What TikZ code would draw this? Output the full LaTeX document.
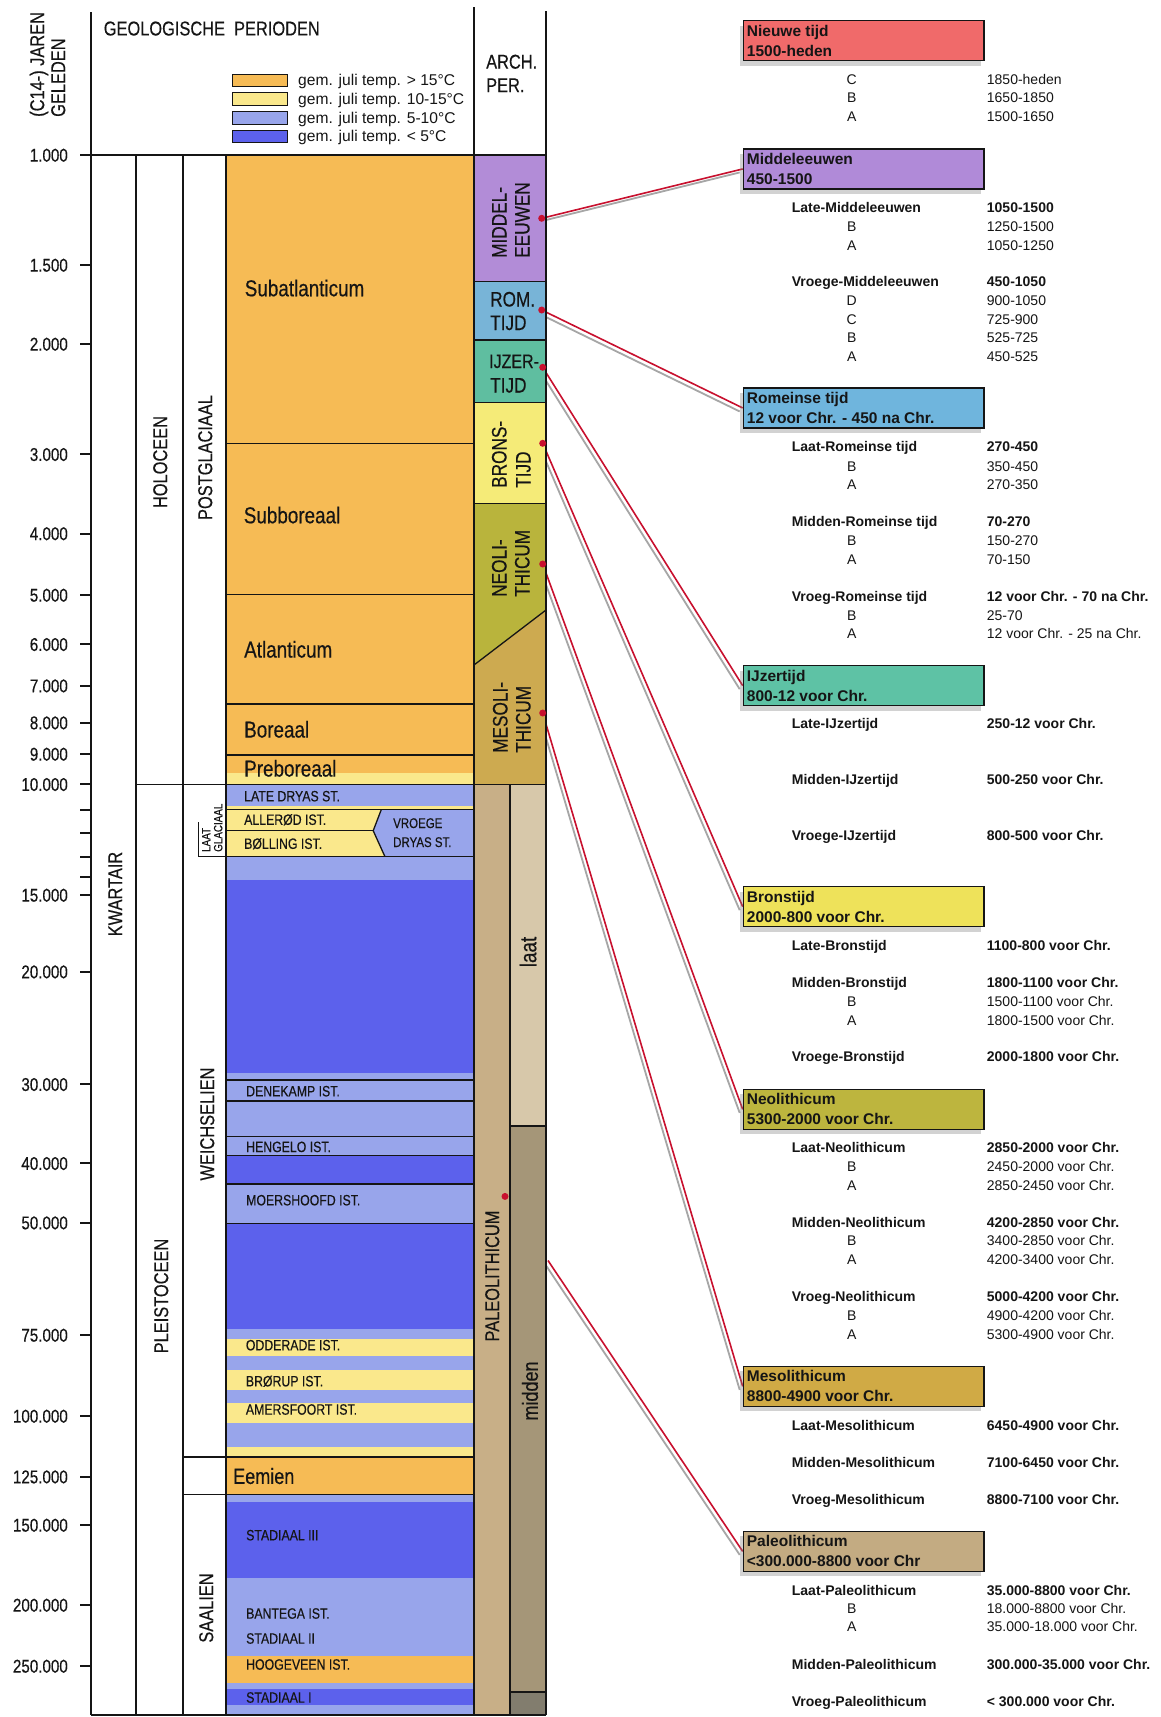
\documentclass[tikz,border=0pt]{standalone}
\usepackage{fontspec}
\setmainfont{Liberation Sans}
\newfontfamily\cond[FakeStretch=0.82,FakeBold=0.35]{Liberation Sans}
\usetikzlibrary{shadows}
\definecolor{cOr}{HTML}{F6BB55}
\definecolor{cYe}{HTML}{FAE88C}
\definecolor{cLb}{HTML}{98A5EB}
\definecolor{cDb}{HTML}{5C61EC}
\definecolor{aMid}{HTML}{B28CD7}
\definecolor{aRom}{HTML}{78B4D7}
\definecolor{aIJz}{HTML}{5FBEA0}
\definecolor{aBro}{HTML}{F5EB78}
\definecolor{aNeo}{HTML}{B9B43C}
\definecolor{aMes}{HTML}{CDAA50}
\definecolor{aPal}{HTML}{C8AF87}
\definecolor{aLaat}{HTML}{D7C8AA}
\definecolor{aMidd}{HTML}{A59678}
\definecolor{aBot}{HTML}{827D6E}
\definecolor{bNw}{HTML}{F06A6A}
\definecolor{bMid}{HTML}{B08AD8}
\definecolor{bRom}{HTML}{6FB5DD}
\definecolor{bIJz}{HTML}{5EC2A5}
\definecolor{bBro}{HTML}{EEE25A}
\definecolor{bNeo}{HTML}{BDB53E}
\definecolor{bMes}{HTML}{D0AA45}
\definecolor{bPal}{HTML}{C3AB82}
\definecolor{cRed}{HTML}{C8102E}
\definecolor{ink}{HTML}{151515}
\pgfdeclarelayer{bg}
\pgfdeclarelayer{lines}
\pgfsetlayers{bg,lines,main}
\begin{document}
\begin{tikzpicture}[x=1pt,y=-1pt,
  txt/.style={inner sep=0pt, text depth=0pt, text=ink},
  cBig/.style={txt, font=\cond\fontsize{23}{26}\selectfont, text height=16.5pt, anchor=west},
  cEem/.style={txt, font=\cond\fontsize{22}{25}\selectfont, text height=15.8pt, anchor=west},
  cLab/.style={txt, font=\cond\fontsize{20}{23}\selectfont, text height=14.3pt},
  cArch/.style={txt, font=\cond\fontsize{21}{24}\selectfont, text height=15pt},
  cTick/.style={txt, font=\cond\fontsize{18.5}{21}\selectfont, text height=13.2pt, anchor=east},
  cSm/.style={txt, font=\cond\fontsize{15}{18}\selectfont, text height=10.7pt, anchor=west},
  cVr/.style={txt, font=\cond\fontsize{14}{17}\selectfont, text height=10pt, anchor=west},
  cLG/.style={txt, font=\cond\fontsize{12}{14}\selectfont, text height=8.6pt, rotate=90, anchor=west},
  leg/.style={txt, font=\fontsize{15.6}{18}\selectfont, text height=11.2pt, anchor=west},
  rt/.style={txt, font=\fontsize{14}{17}\selectfont, text height=10pt, anchor=west},
  rtb/.style={rt, font=\bfseries\fontsize{14}{17}\selectfont},
  rtl/.style={txt, font=\fontsize{14}{17}\selectfont, text height=10pt},
  bt/.style={txt, font=\bfseries\fontsize{15.5}{18}\selectfont, text height=11.1pt, anchor=west},
  pbox/.style={draw=ink, line width=1.3pt, minimum width=240.6pt, minimum height=40pt, inner sep=0pt, anchor=north west, drop shadow={shadow xshift=-3pt, shadow yshift=-5pt, opacity=0.35}},
  dot/.style={circle, fill=cRed, inner sep=0pt, minimum size=7pt},
  shl/.style={draw=gray!70, line width=1.8pt, transform canvas={xshift=-3pt,yshift=-3.5pt}},
  redl/.style={draw=cRed, line width=1.6pt},
  frm/.style={draw=ink, line width=2pt},
  bl/.style={draw=ink, line width=1.3pt}
]
\begin{pgfonlayer}{bg}
\fill[white] (0,0) rectangle (1161,1717);
\end{pgfonlayer}
\useasboundingbox (0,0) rectangle (1161,1717);

% ---- main column bands
\foreach \a/\b/\c in {155/773.3/cOr, 773.3/784.3/cYe, 784.3/806/cLb, 806/809.3/cYe, 809.3/856.7/cLb, 856.7/880/cLb, 880/1072.7/cDb, 1072.7/1155.7/cLb, 1155.7/1184/cDb, 1184/1223.3/cLb, 1223.3/1329.3/cDb, 1329.3/1339.3/cLb, 1339.3/1356/cYe, 1356/1370/cLb, 1370/1390/cYe, 1390/1403.3/cLb, 1403.3/1423.3/cYe, 1423.3/1446.7/cLb, 1446.7/1457/cYe, 1457/1494.3/cOr, 1494.3/1501.7/cLb, 1501.7/1578/cDb, 1578/1656/cLb, 1656/1683.3/cOr, 1683.3/1689/cLb, 1689/1705/cDb, 1705/1715/cLb}
  \fill[\c] (226,\a) rectangle (474,\b);
\fill[cYe] (226,809.3) -- (381.4,809.3) -- (373.2,830.7) -- (226,830.7) -- cycle;
\fill[cYe] (226,830.7) -- (373.2,830.7) -- (385,856.7) -- (226,856.7) -- cycle;

% ---- archaeological column
\fill[aMid] (474,155) rectangle (546,281.7);
\fill[aRom] (474,281.7) rectangle (546,340);
\fill[aIJz] (474,340) rectangle (546,402.7);
\fill[aBro] (474,402.7) rectangle (546,503.3);
\fill[aNeo] (474,503.3) -- (546,503.3) -- (546,610) -- (474,665) -- cycle;
\fill[aMes] (474,665) -- (546,610) -- (546,784.3) -- (474,784.3) -- cycle;
\fill[aPal] (474,784.3) rectangle (510,1715);
\fill[aLaat] (510,784.3) rectangle (546,1126);
\fill[aMidd] (510,1126) rectangle (546,1692);
\fill[aBot] (510,1692) rectangle (546,1715);

% ---- frame lines
\draw[frm] (91,12) -- (91,1715);
\draw[frm] (474,7) -- (474,1715);
\draw[frm] (546,11) -- (546,1715);
\draw[bl] (136,155) -- (136,1715);
\draw[bl] (183,155) -- (183,1715);
\draw[bl] (226,155) -- (226,1715);
\draw[frm] (80,155) -- (546,155);
\draw[bl] (136,784.3) -- (546,784.3);
\draw[frm] (91,1715) -- (546,1715);
\foreach \y in {443.3,594.3,704,755,809.3,856.7,1080,1101,1136.7,1155.7,1184,1223.3}
  \draw[bl] (226,\y) -- (474,\y);
\draw[bl] (183,1457) -- (474,1457);
\draw[bl] (183,1494.3) -- (474,1494.3);
\draw[bl] (226,830.7) -- (373.2,830.7);
\draw[bl] (381.4,809.3) -- (373.2,830.7) -- (385,856.7);
\draw[bl] (198.6,822) -- (198.6,856.7) -- (226,856.7);
\foreach \y in {281.7,340,402.7,503.3}
  \draw[bl] (474,\y) -- (546,\y);
\draw[bl] (474,665) -- (546,610);
\draw[bl] (510,784.3) -- (510,1715);
\draw[bl] (510,1126) -- (546,1126);
\draw[bl] (510,1692) -- (546,1692);

% ---- ticks
\foreach \y/\t [count=\i] in {155/1.000, 265/1.500, 344/2.000, 454.3/3.000, 533.5/4.000, 595/5.000, 644.3/6.000, 685.7/7.000, 722.7/8.000, 754/9.000, 784.3/10.000, 895/15.000, 971.7/20.000, 1084.3/30.000, 1163.3/40.000, 1222.7/50.000, 1335/75.000, 1416/100.000, 1476.7/125.000, 1525/150.000, 1605/200.000, 1666/250.000}
{ \draw[frm] (80,\y) -- (91,\y);
  \node[cTick] (tk\i) at (68,\y) {\t}; }
\foreach \y in {810,833.3,856.7,876.7}
  \draw[frm] (80,\y) -- (91,\y);

% ---- header
\node[txt, font=\cond\fontsize{20}{23}\selectfont, text height=14.3pt, rotate=90, anchor=west] (h1) at (37,117) {(C14-) JAREN};
\node[txt, font=\cond\fontsize{20}{23}\selectfont, text height=14.3pt, rotate=90, anchor=west] (h2) at (58,117) {GELEDEN};
\node[cLab, anchor=west] (h3) at (103.6,28.3) {GEOLOGISCHE~~PERIODEN};
\node[cLab, anchor=west] (h4) at (486,61.5) {ARCH.};
\node[cLab, anchor=west] (h5) at (486,85) {PER.};

% ---- legend
\foreach \y/\c/\t [count=\i] in {80.2/cOr/{gem. juli temp. > 15°C}, 98.8/cYe/{gem. juli temp. 10-15°C}, 117.8/cLb/{gem. juli temp. 5-10°C}, 136.3/cDb/{gem. juli temp. < 5°C}}
{ \draw[draw=ink, line width=0.8pt, fill=\c] (232,\y-6.2) rectangle (287.5,\y+6.2);
  \node[leg] (lg\i) at (298,\y) {\t}; }

% ---- rotated period labels
\node[cLab, rotate=90] (kw) at (115,894) {KWARTAIR};
\node[cLab, rotate=90] (ho) at (160,462) {HOLOCEEN};
\node[cLab, rotate=90] (pg) at (205,457.5) {POSTGLACIAAL};
\node[cLab, rotate=90] (pl) at (161,1296) {PLEISTOCEEN};
\node[cLab, rotate=90] (we) at (207,1124) {WEICHSELIEN};
\node[cLab, rotate=90] (sa) at (206,1608) {SAALIEN};
\node[cLG] (lgA) at (206,852) {LAAT};
\node[cLG] (lgB) at (218,852) {GLACIAAL};

% ---- main column labels
\node[cBig] (m1) at (244.6,288) {Subatlanticum};
\node[cBig] (m2) at (243.6,515) {Subboreaal};
\node[cBig] (m3) at (244,649.3) {Atlanticum};
\node[cBig] (m4) at (244,729.3) {Boreaal};
\node[cBig] (m5) at (244,768.3) {Preboreaal};
\node[cSm] (s1) at (244,796) {LATE DRYAS ST.};
\node[cSm] (s2) at (244,819.5) {ALLERØD IST.};
\node[cSm] (s3) at (244,843.5) {BØLLING IST.};
\node[cVr] (s4) at (393,823) {VROEGE};
\node[cVr] (s5) at (393,842) {DRYAS ST.};
\node[cSm] (s6) at (246,1091) {DENEKAMP IST.};
\node[cSm] (s7) at (246,1146.7) {HENGELO IST.};
\node[cSm] (s8) at (246,1200) {MOERSHOOFD IST.};
\node[cSm] (s9) at (245.7,1345) {ODDERADE IST.};
\node[cSm] (s10) at (245.7,1381) {BRØRUP IST.};
\node[cSm] (s11) at (245.7,1409.3) {AMERSFOORT IST.};
\node[cEem] (s12) at (233,1476) {Eemien};
\node[cSm] (s13) at (246,1535) {STADIAAL III};
\node[cSm] (s14) at (246,1613.3) {BANTEGA IST.};
\node[cSm] (s15) at (246,1638.3) {STADIAAL II};
\node[cSm] (s16) at (246,1664.3) {HOOGEVEEN IST.};
\node[cSm] (s17) at (246,1697.3) {STADIAAL I};

% ---- arch labels
\node[cArch, rotate=90, anchor=west] (am1) at (499,258) {MIDDEL-};
\node[cArch, rotate=90, anchor=west] (am2) at (522,258) {EEUWEN};
\node[cArch, anchor=west] (ar1) at (490,299) {ROM.};
\node[cArch, anchor=west] (ar2) at (490,322.5) {TIJD};
\node[cArch, anchor=west, font=\cond\fontsize{19.5}{22}\selectfont] (ai1) at (489,360.5) {IJZER-};
\node[cArch, anchor=west] (ai2) at (490,385) {TIJD};
\node[cArch, rotate=90, anchor=west] (ab1) at (499,488) {BRONS-};
\node[cArch, rotate=90, anchor=west] (ab2) at (523,488) {TIJD};
\node[cArch, rotate=90, anchor=west] (an1) at (499,597) {NEOLI-};
\node[cArch, rotate=90, anchor=west] (an2) at (522,597) {THICUM};
\node[cArch, rotate=90, anchor=west] (as1) at (500,753) {MESOLI-};
\node[cArch, rotate=90, anchor=west] (as2) at (523,753) {THICUM};
\node[cLab, rotate=90] (ap) at (492,1276) {PALEOLITHICUM};
\node[txt, font=\cond\fontsize{23}{26}\selectfont, text height=16.5pt, rotate=90] (al) at (528,952) {laat};
\node[txt, font=\cond\fontsize{22}{25}\selectfont, text height=15.8pt, rotate=90] (amd) at (530,1391) {midden};

% ---- period boxes
\foreach \y/\c/\ta/\tb [count=\i] in {20/bNw/Nieuwe tijd/1500-heden, 148.3/bMid/Middeleeuwen/450-1500, 387.3/bRom/Romeinse tijd/12 voor Chr. - 450 na Chr., 665/bIJz/IJzertijd/800-12 voor Chr., 886/bBro/Bronstijd/2000-800 voor Chr., 1088.7/bNeo/Neolithicum/5300-2000 voor Chr., 1365.7/bMes/Mesolithicum/8800-4900 voor Chr., 1530.7/bPal/Paleolithicum/<300.000-8800 voor Chr}
{ \node[pbox, fill=\c] (bx\i) at (742.7,\y) {};
  \node[bt] (bxa\i) at (746.7,\y+10.7) {\ta};
  \node[bt] (bxb\i) at (746.7,\y+30.5) {\tb}; }

% ---- dots and connectors
\node[dot] (d1) at (541.7,218.3) {};
\node[dot] (d2) at (541.7,310) {};
\node[dot] (d3) at (542.7,367.3) {};
\node[dot] (d4) at (542.7,443.3) {};
\node[dot] (d5) at (542.7,564) {};
\node[dot] (d6) at (542.7,713) {};
\node[dot] (d7) at (505,1196.4) {};
\coordinate (p7) at (548,1260.5);
\begin{pgfonlayer}{lines}
\foreach \s/\b in {d1/bx2, d2/bx3, d3/bx4, d4/bx5, d5/bx6, d6/bx7, p7/bx8}
{ \draw[shl] (\s.center) -- (\b.west);
  \draw[redl] (\s.center) -- (\b.west); }
\end{pgfonlayer}

% ---- sub-period tables
\foreach \y/\l/\d [count=\i] in {79.3/C/1850-heden, 97.7/B/1650-1850, 116.7/A/1500-1650, 226/B/1250-1500, 245/A/1050-1250, 300/D/900-1050, 319.3/C/725-900, 337.7/B/525-725, 356.7/A/450-525, 466/B/350-450, 484.3/A/270-350, 540/B/150-270, 559/A/70-150, 615/B/25-70, 633.3/A/12 voor Chr. - 25 na Chr., 1001/B/1500-1100 voor Chr., 1020/A/1800-1500 voor Chr., 1166/B/2450-2000 voor Chr., 1185/A/2850-2450 voor Chr., 1240.7/B/3400-2850 voor Chr., 1259.3/A/4200-3400 voor Chr., 1315/B/4900-4200 voor Chr., 1334/A/5300-4900 voor Chr., 1608.3/B/18.000-8800 voor Chr., 1626.7/A/35.000-18.000 voor Chr.}
{ \node[rtl] (L\i) at (851.7,\y) {\l};
  \node[rt] (D\i) at (986.7,\y) {\d}; }
\foreach \y/\nm/\d [count=\i] in {207.3/Late-Middeleeuwen/1050-1500, 281.7/Vroege-Middeleeuwen/450-1050, 446.7/Laat-Romeinse tijd/270-450, 521.7/Midden-Romeinse tijd/70-270, 596/Vroeg-Romeinse tijd/12 voor Chr. - 70 na Chr., 723.3/Late-IJzertijd/250-12 voor Chr., 779.3/Midden-IJzertijd/500-250 voor Chr., 835/Vroege-IJzertijd/800-500 voor Chr., 945/Late-Bronstijd/1100-800 voor Chr., 982.3/Midden-Bronstijd/1800-1100 voor Chr., 1056.7/Vroege-Bronstijd/2000-1800 voor Chr., 1147.3/Laat-Neolithicum/2850-2000 voor Chr., 1222.3/Midden-Neolithicum/4200-2850 voor Chr., 1296.7/Vroeg-Neolithicum/5000-4200 voor Chr., 1425/Laat-Mesolithicum/6450-4900 voor Chr., 1462.3/Midden-Mesolithicum/7100-6450 voor Chr., 1499.3/Vroeg-Mesolithicum/8800-7100 voor Chr., 1590/Laat-Paleolithicum/35.000-8800 voor Chr., 1664.3/Midden-Paleolithicum/300.000-35.000 voor Chr., 1701.7/Vroeg-Paleolithicum/< 300.000 voor Chr.}
{ \node[rtb] (N\i) at (791.7,\y) {\nm};
  \node[rtb] (E\i) at (986.7,\y) {\d}; }
\end{tikzpicture}
\end{document}
